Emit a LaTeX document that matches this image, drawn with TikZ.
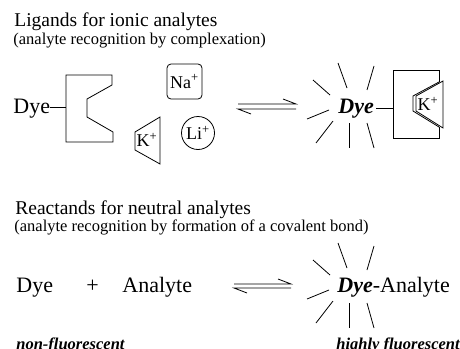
\documentclass[tikz,border=0pt]{standalone}
\usepackage{fontspec}
\setmainfont{Liberation Serif}
\begin{document}
\begin{tikzpicture}[x=1pt,y=-1pt,line width=0.8pt,line join=miter,
  lbl/.style={inner sep=0pt,anchor=base west},
  ttl/.style={lbl,font=\fontsize{19.5}{22}\selectfont},
  sub/.style={lbl,font=\fontsize{16.5}{19}\selectfont},
  big/.style={lbl,font=\fontsize{22}{25}\selectfont},
  ion/.style={inner sep=0pt,font=\fontsize{18}{20}\selectfont},
  note/.style={lbl,font=\fontsize{16.5}{19}\selectfont\bfseries\itshape},
  ray/.style={line width=0.8pt}]
\useasboundingbox (0,0) rectangle (460,348);

% ---------- section 1 ----------
\node[ttl] (t1) at (14,26) {Ligands for ionic analytes};
\node[sub] (s1) at (13,44) {(analyte recognition by complexation)};

\node[big] (dye1) at (13,113) {Dye};
\coordinate (h1) at (66,107);
\draw (dye1.east |- h1) -- (h1);
\draw (66,75) -- (112,75) -- (112,85) -- (87,99) -- (87,117) -- (113,132) -- (113,142) -- (66,142) -- cycle;

\node[ion,draw,rounded corners=4pt,minimum width=35pt,minimum height=35pt] (na) at (184.5,81.5) {Na\textsuperscript{+}};
\draw (135,132) -- (160,117) -- (160,164) -- (135,150) -- cycle;
\node[ion] (k1) at (147,140) {K\textsuperscript{+}};
\node[ion,draw,circle,minimum size=33pt] (li) at (198,133) {Li\textsuperscript{+}};

% equilibrium arrows 1
\coordinate (ea1) at (238,104); \coordinate (eb1) at (296,104);
\coordinate (ec1) at (296,109); \coordinate (ed1) at (238,109);
\draw (ea1) -- (eb1) -- ++(-13,-5);
\draw (ec1) -- (ed1) -- ++(13,5);

% complexed dye
\node[big,font=\fontsize{22}{25}\selectfont\bfseries\itshape] (dye2) at (338,113) {Dye};
\coordinate (h2) at (393,108);
\draw (dye2.east |- h2) ++(2,0) -- (h2);
\draw (439,82) -- (439,70) -- (393,70) -- (393,138) -- (439,138) -- (439,127);
\draw (439,82) -- (413,96) -- (413,111) -- (439,127);
\draw (443,81) -- (416,96) -- (416,111) -- (443,128) -- cycle;
\node[ion] (k2) at (428,104) {K\textsuperscript{+}};

% ---------- section 2 ----------
\node[ttl] (t2) at (15,214) {Reactands for neutral analytes};
\node[sub] (s2) at (14,231) {(analyte recognition by formation of a covalent bond)};

\node[big] (dye3) at (16,292) {Dye};
\node[big] (plus) at (86,292) {+};
\node[big] (an) at (122,292) {Analyte};

\coordinate (ea2) at (234,284); \coordinate (eb2) at (291,284);
\coordinate (ec2) at (291,288); \coordinate (ed2) at (234,288);
\draw (ea2) -- (eb2) -- ++(-13,-5);
\draw (ec2) -- (ed2) -- ++(13,5);

\node[big] (prod) at (337,292) {\textbf{\textit{Dye}}-Analyte};

% glow rays
\foreach \oy in {0,180} {
  \draw[ray] (338,{63+\oy}) -- (347,{88+\oy});
  \draw[ray] (374,{66+\oy}) -- (367,{90+\oy});
  \draw[ray] (313,{80+\oy}) -- (330,{95+\oy});
  \draw[ray] (307,{119+\oy}) -- (329,{110+\oy});
  \draw[ray] (316,{143+\oy}) -- (333,{121+\oy});
  \draw[ray] (349,{123+\oy}) -- (349,{148+\oy});
  \draw[ray] (367,{123+\oy}) -- (374,{148+\oy});
}

\node[note] (nf) at (16,349) {non-fluorescent};
\node[note] (hf) at (336,349) {highly fluorescent};
\end{tikzpicture}
\end{document}
